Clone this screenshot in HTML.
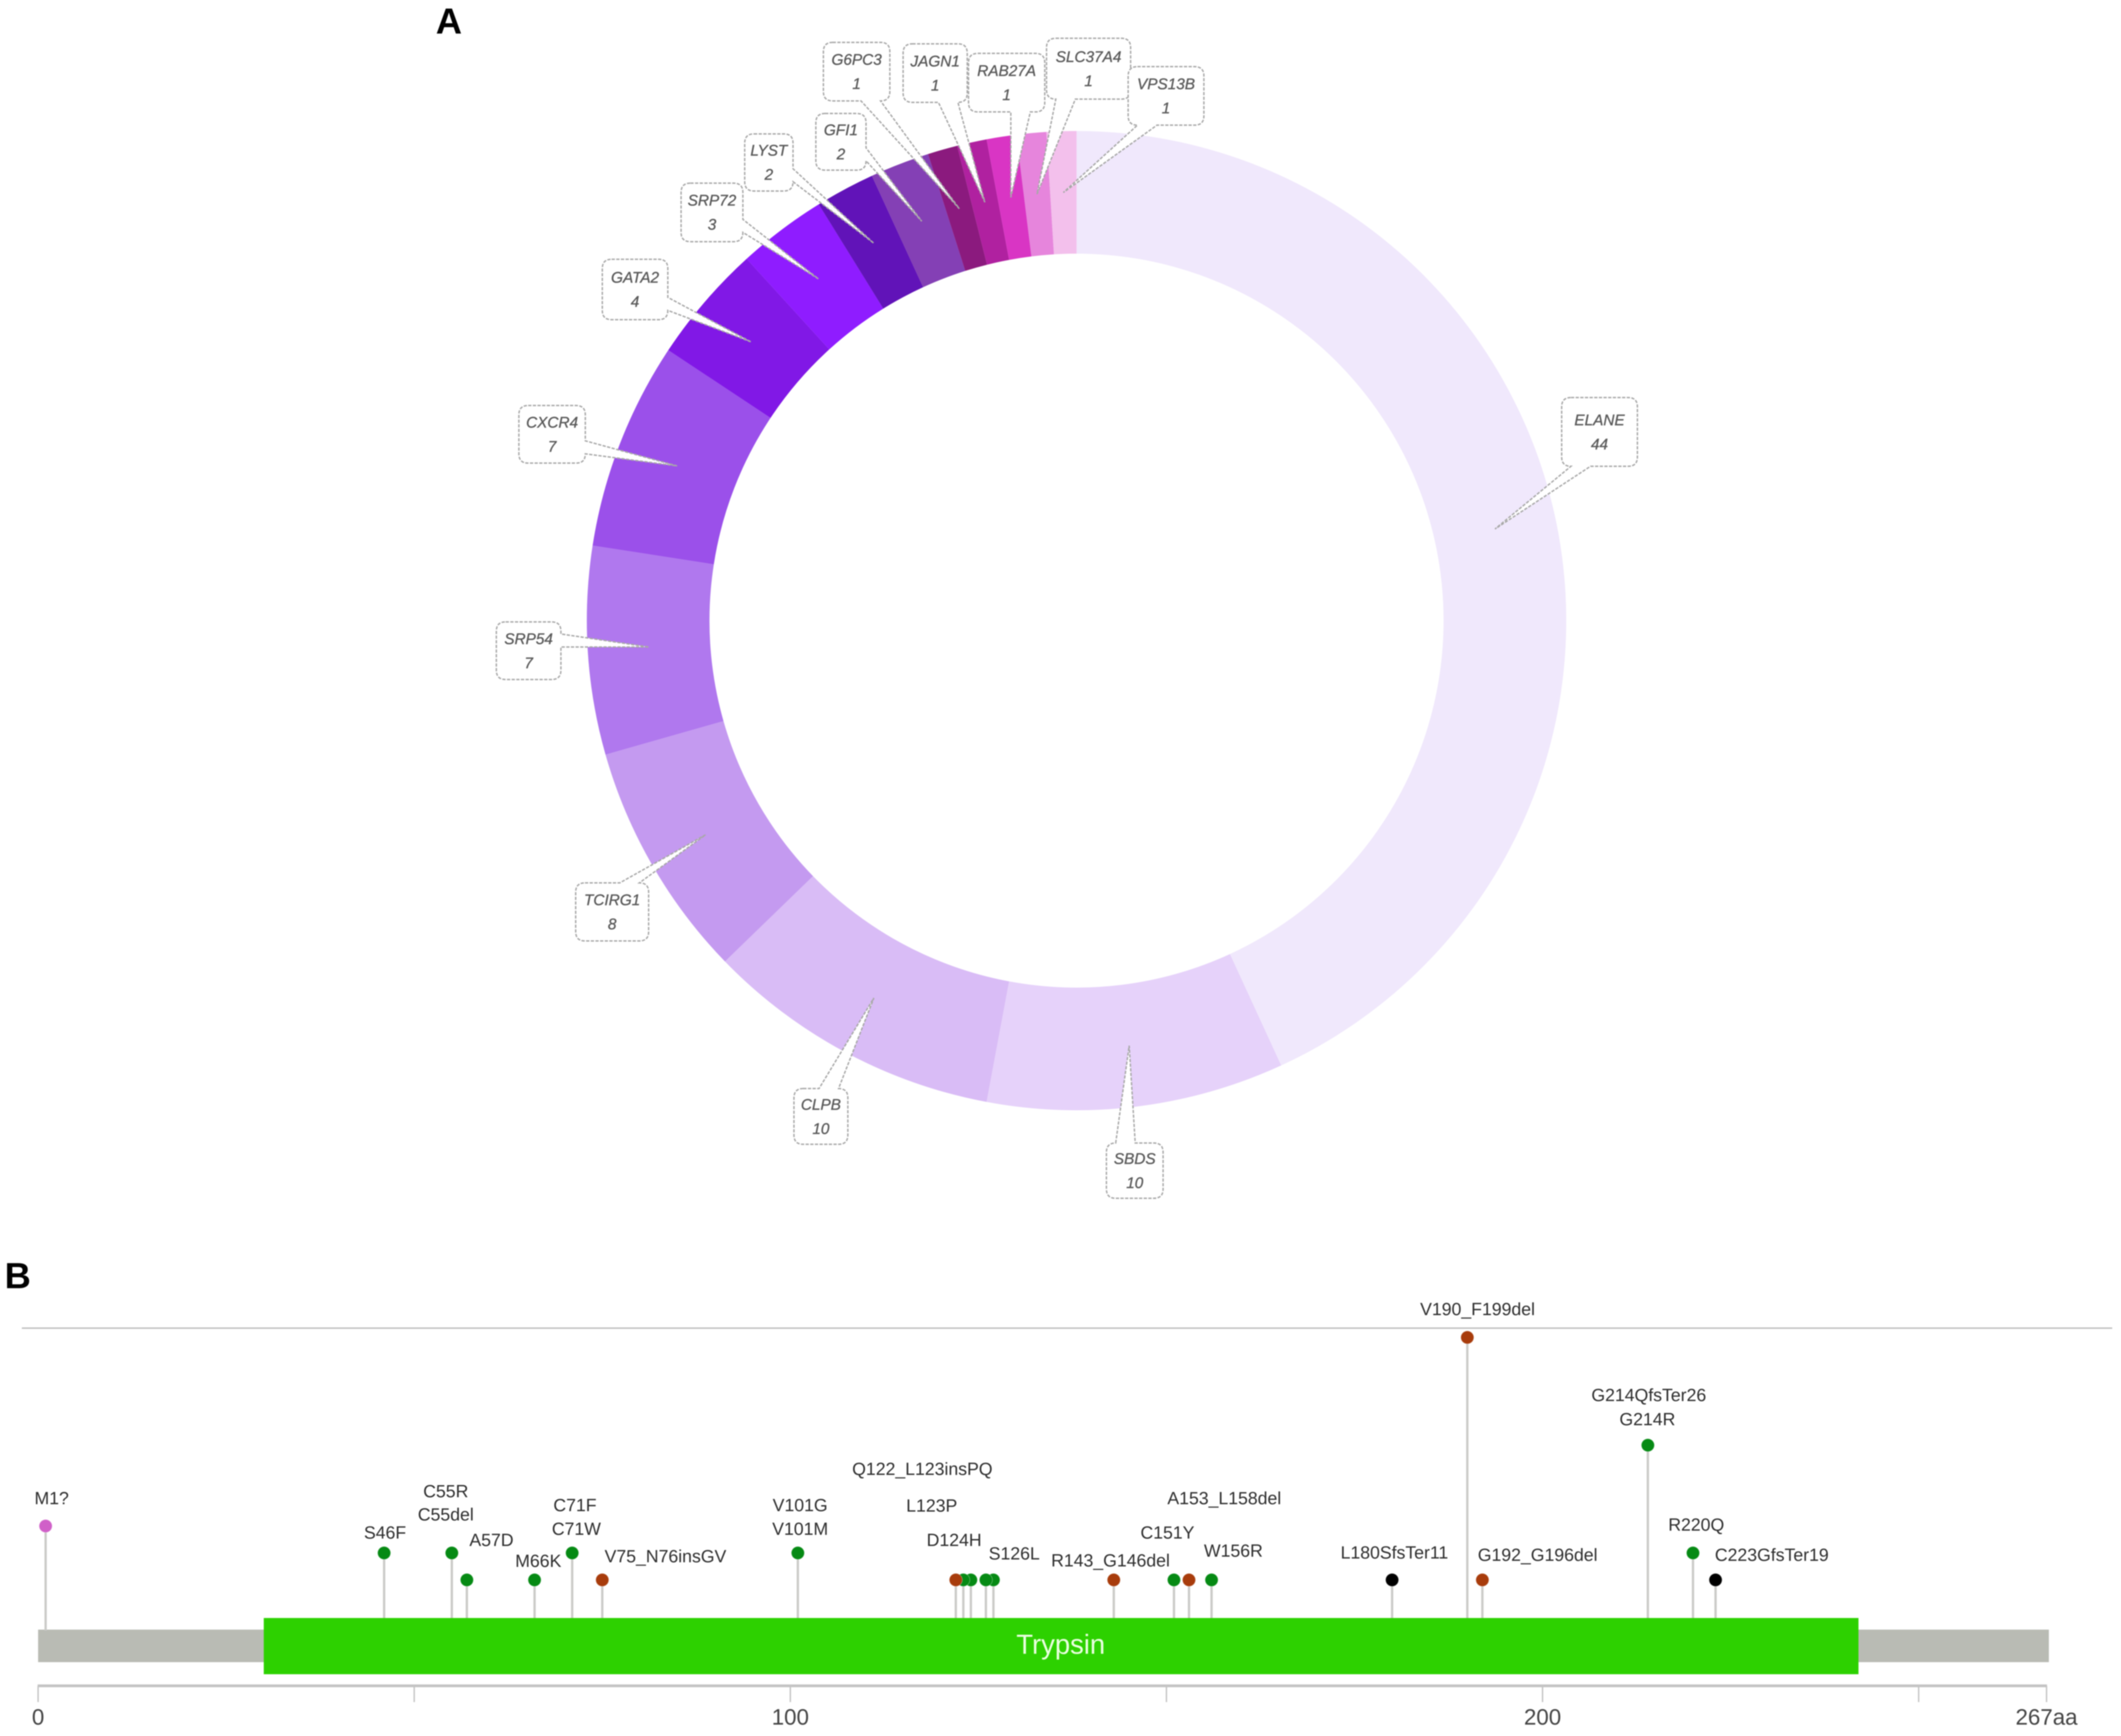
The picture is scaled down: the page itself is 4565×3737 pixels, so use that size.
<!DOCTYPE html>
<html lang="en">
<head>
<meta charset="utf-8">
<title>ELANE mutation figure</title>
<style>
html,body{margin:0;padding:0;background:#fff;}
svg{display:block;font-family:"Liberation Sans",sans-serif;filter:blur(1px);}
</style>
</head>
<body>
<svg id="figure" xmlns="http://www.w3.org/2000/svg" width="4565" height="3737" viewBox="0 0 4565 3737">
  <rect x="0" y="0" width="4565" height="3737" fill="#ffffff"/>
  <text x="938" y="72" font-size="78" font-weight="bold" fill="#000">A</text>
  <text x="10" y="2773" font-size="78" font-weight="bold" fill="#000">B</text>
  <g id="donut"></g>
  <g id="callouts"></g>
  <line x1="47" y1="2859" x2="4546" y2="2859" stroke="#bdbdbd" stroke-width="3"/>
  <g id="lollipop"></g>
</svg>
<script>
// ---- Panel A data ----
const genes = ["ELANE","SBDS","CLPB","TCIRG1","SRP54","CXCR4","GATA2","SRP72","LYST","GFI1","G6PC3","JAGN1","RAB27A","SLC37A4","VPS13B"];
const geneCounts = [44,10,10,8,7,7,4,3,2,2,1,1,1,1,1];

// ---- Panel B data ----
const sitePositions = [1,46,55,57,66,71,75,101,122,123,124,126,127,143,151,153,156,180,190,192,214,220,223];
const siteCounts = [3,2,2,1,1,2,1,2,1,1,1,1,1,1,1,1,1,1,10,1,6,2,1];
const siteClasses = ["start","missense","missense","missense","missense","missense","indel","missense","indel","missense","missense","missense","missense","indel","missense","indel","missense","frameshift","indel","indel","missense","missense","frameshift"];
const siteLabels = [["M1?"],["S46F"],["C55R","C55del"],["A57D"],["M66K"],["C71F","C71W"],["V75_N76insGV"],["V101G","V101M"],["Q122_L123insPQ"],["L123P"],["D124H"],["S126L"],[],["R143_G146del"],["C151Y"],["A153_L158del"],["W156R"],["L180SfsTer11"],["V190_F199del"],["G192_G196del"],["G214QfsTer26","G214R"],["R220Q"],["C223GfsTer19"]];
const axisTicks = [0,50,100,150,200,250,267];
const axisTickLabels = ["0","","100","","200","","267aa"];
const proteinLength = 267;
const domainStart = 30;
const domainEnd = 242;
const domainName = "Trypsin";

const NS = "http://www.w3.org/2000/svg";
function make(tag, attrs, parent) {
  const el = document.createElementNS(NS, tag);
  for (const k in attrs) el.setAttribute(k, attrs[k]);
  parent.appendChild(el);
  return el;
}

function drawDonut() {
  const palette = ["#f0e8fc","#e6d2fa","#d9bcf6","#c49af0","#b078ee","#9b50ea","#8118e6","#8f1cff","#6113b8","#8440b5","#8b1a7e","#b021a0","#d935c4","#e685dc","#f3c0ec"];
  const cx = 2317, cy = 1336, outer = 1054, inner = 790, tipR = 922;
  const total = geneCounts.reduce((a, b) => a + b, 0);
  const angle = v => v / total * 2 * Math.PI;
  const pt = (r, a) => [cx + r * Math.sin(a), cy - r * Math.cos(a)];
  const donut = document.getElementById("donut");
  const calloutLayer = document.getElementById("callouts");
  const layout = {
    ELANE:[225,-209,163,148,"bottom"], SBDS:[12,269,122,119,"top"], CLPB:[-114,255,116,120,"top"],
    TCIRG1:[-201,166,157,125,"top"], SRP54:[-259,8,139,124,"right"], CXCR4:[-269,-68,143,124,"right"],
    GATA2:[-250,-113,141,130,"right"], SRP72:[-229,-143,133,126,"right"], LYST:[-226,-174,104,123,"right"],
    GFI1:[-174,-171,108,122,"right"], G6PC3:[-221,-295,143,126,"bottom"], JAGN1:[-107,-278,138,126,"bottom"],
    RAB27A:[-9,-247,164,126,"bottom"], SLC37A4:[111,-270,181,131,"bottom"], VPS13B:[221,-208,163,126,"bottom"]
  };
  let cum = 0;
  genes.forEach((gene, i) => {
    const a0 = angle(cum), a1 = angle(cum + geneCounts[i]);
    cum += geneCounts[i];
    const large = a1 - a0 > Math.PI ? 1 : 0;
    const p0 = pt(outer, a0), p1 = pt(outer, a1), p2 = pt(inner, a1), p3 = pt(inner, a0);
    const d = `M${p0[0]} ${p0[1]}A${outer} ${outer} 0 ${large} 1 ${p1[0]} ${p1[1]}L${p2[0]} ${p2[1]}A${inner} ${inner} 0 ${large} 0 ${p3[0]} ${p3[1]}Z`;
    const slice = make("path", {d: d, fill: palette[i % palette.length]}, donut);
    
    
  });
  cum = 0;
  genes.forEach((gene, i) => {
    const mid = angle(cum + geneCounts[i] / 2);
    cum += geneCounts[i];
    const tip = pt(tipR, mid);
    const L = layout[gene];
    const w = L[2], h = L[3], bx = tip[0] + L[0], by = tip[1] + L[1];
    const l = bx - w / 2, r = bx + w / 2, t = by - h / 2, b = by + h / 2;
    const c = 20, halfH = 21, halfV = 14;
    const clamp = (v, lo, hi) => Math.max(lo, Math.min(hi, v));
    let d = `M${l + c} ${t}`;
    if (L[4] === "top") {
      const m = clamp(tip[0] - halfH, l + c + halfH, r - c - halfH);
      d += `L${m - halfH} ${t}L${tip[0]} ${tip[1]}L${m + halfH} ${t}`;
    }
    d += `L${r - c} ${t}Q${r} ${t} ${r} ${t + c}`;
    if (L[4] === "right") {
      const m = clamp(tip[1] - halfV, t + c + halfV, b - c - halfV);
      d += `L${r} ${m - halfV}L${tip[0]} ${tip[1]}L${r} ${m + halfV}`;
    }
    d += `L${r} ${b - c}Q${r} ${b} ${r - c} ${b}`;
    if (L[4] === "bottom") {
      const m = clamp(tip[0] + halfH, l + c + halfH, r - c - halfH);
      d += `L${m + halfH} ${b}L${tip[0]} ${tip[1]}L${m - halfH} ${b}`;
    }
    d += `L${l + c} ${b}Q${l} ${b} ${l} ${b - c}L${l} ${t + c}Q${l} ${t} ${l + c} ${t}Z`;
    const g = make("g", {}, calloutLayer);
    
    
    const shape = make("path", {d: d, fill: "#ffffff", stroke: "#a8a8a8", "stroke-width": 3, "stroke-dasharray": "7 3"}, g);
    
    
    const nameText = make("text", {x: bx, y: by - 26, "font-size": 33, "font-style": "italic", fill: "#5a5a5a", stroke: "#5a5a5a", "stroke-width": 0.6, "text-anchor": "middle", "dominant-baseline": "central"}, g);
    nameText.textContent = gene;
    
    
    const countText = make("text", {x: bx, y: by + 26, "font-size": 33, "font-style": "italic", fill: "#5a5a5a", stroke: "#5a5a5a", "stroke-width": 0.6, "text-anchor": "middle", "dominant-baseline": "central"}, g);
    countText.textContent = geneCounts[i];
    
    
  });
}

function drawLollipop() {
  const root = document.getElementById("lollipop");
  const xScale = aa => 82 + 16.19 * aa;
  const yScale = c => 3459 - 58 * c;
  const domainTop = 3483, domainBottom = 3604, backboneTop = 3508;
  const classColors = {start: "#d060c8", missense: "#068a14", indel: "#a83c0c", frameshift: "#000000"};
  const labelOffsets = {
    "M1?":[13,-59], "S46F":[2,-43], "C55R":[-13,-132], "C55del":[-13,-82], "A57D":[53,-85], "M66K":[8,-40],
    "C71F":[6,-102], "C71W":[9,-51], "V75_N76insGV":[136,-50], "V101G":[5,-102], "V101M":[5,-51],
    "Q122_L123insPQ":[-72,-238], "L123P":[-68,-159], "D124H":[-36,-85], "S126L":[61,-56], "R143_G146del":[-7,-41],
    "C151Y":[-14,-101], "A153_L158del":[76,-175], "W156R":[47,-62], "L180SfsTer11":[5,-58], "V190_F199del":[22,-60],
    "G192_G196del":[119,-53], "G214QfsTer26":[2,-107], "G214R":[-1,-55], "R220Q":[7,-60], "C223GfsTer19":[121,-53]
  };

  const backbone = make("rect", {x: xScale(0), y: backboneTop, width: xScale(proteinLength) - xScale(0) + 5, height: 70, fill: "#b9bbb4"}, root);
  
  

  sitePositions.forEach((pos, i) => {
    const inDomain = pos >= domainStart && pos <= domainEnd;
    const stem = make("line", {x1: xScale(pos), x2: xScale(pos), y1: yScale(siteCounts[i]), y2: inDomain ? domainTop + 2 : backboneTop + 2, stroke: "#cbcbc8", "stroke-width": 5}, root);
    
    
  });

  const domain = make("rect", {x: xScale(domainStart), y: domainTop, width: xScale(domainEnd) - xScale(domainStart), height: domainBottom - domainTop, fill: "#2dd100"}, root);
  
  
  const domainLabel = make("text", {x: 2283, y: 3560, "font-size": 59, fill: "#eaffe0", "text-anchor": "middle"}, root);
  domainLabel.textContent = domainName;
  
  

  for (let i = sitePositions.length - 1; i >= 0; i--) {
    const pos = sitePositions[i];
    const mx = xScale(pos), my = yScale(siteCounts[i]);
    const dot = make("circle", {cx: mx, cy: my, r: 14, fill: classColors[siteClasses[i]], stroke: "#ffffff", "stroke-opacity": 0.35, "stroke-width": 1.5}, root);
    
    
    siteLabels[i].forEach(lab => {
      const off = labelOffsets[lab];
      const t = make("text", {x: mx + off[0], y: my + off[1], "font-size": 38, fill: "#2e2e2e", "text-anchor": "middle", "dominant-baseline": "central"}, root);
      t.textContent = lab;
      
      
    });
  }

  const axisY = 3629;
  const axisLine = make("line", {x1: xScale(0) - 1, x2: xScale(proteinLength) + 1, y1: axisY, y2: axisY, stroke: "#c4c4c4", "stroke-width": 6}, root);
  
  
  axisTicks.forEach((tick, i) => {
    const tl = make("line", {x1: xScale(tick), x2: xScale(tick), y1: axisY, y2: 3664, stroke: "#c4c4c4", "stroke-width": 3}, root);
    
    
    if (axisTickLabels[i]) {
      const tt = make("text", {x: xScale(tick), y: 3697, "font-size": 48, fill: "#444", "text-anchor": "middle", "dominant-baseline": "central"}, root);
      tt.textContent = axisTickLabels[i];
      
      
    }
  });
}

drawDonut();
drawLollipop();
</script>
</body>
</html>
